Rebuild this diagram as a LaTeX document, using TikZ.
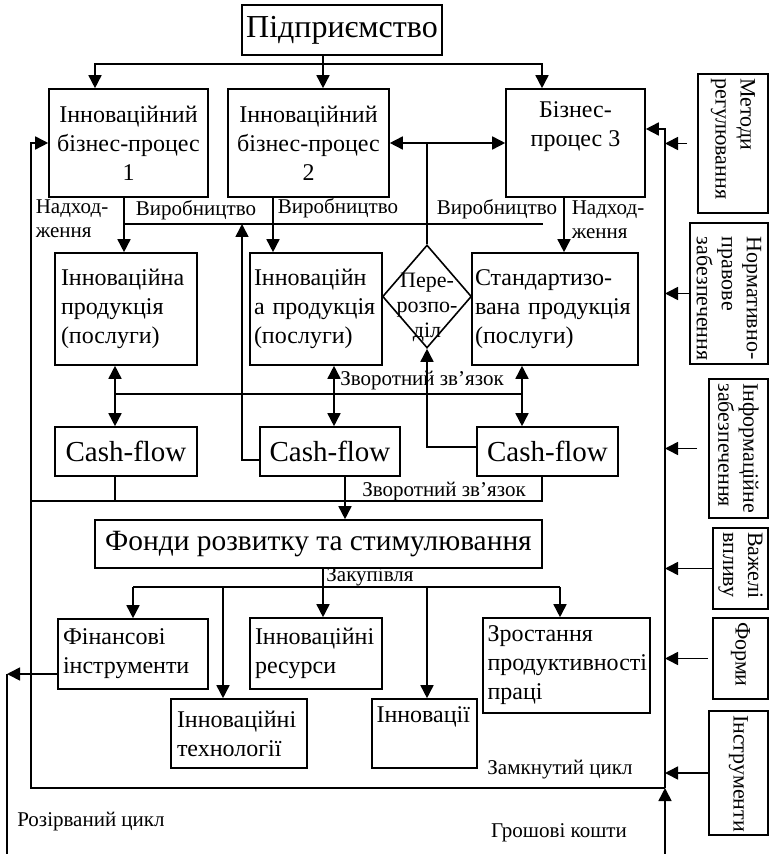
\documentclass[tikz,border=0pt]{standalone}
\usepackage{fontspec}
\setmainfont{Liberation Serif}
\usetikzlibrary{math}
\usetikzlibrary{arrows.meta}
\usetikzlibrary{shapes.geometric}

\tikzset{
  tip/.style={-{Triangle[length=6.5pt,width=6.5pt]}},
  twotip/.style={{Triangle[length=6.5pt,width=6.5pt]}-{Triangle[length=6.5pt,width=6.5pt]}},
  spot/.style n args={4}{at={({(#1+#3)/2},{(#2+#4)/2})},
    minimum width={(#3-#1)*0.5pt}, minimum height={(#4-#2)*0.5pt}},
  box/.style={draw, inner sep=0pt, align=center, font=\fontsize{12}{14.5}\selectfont},
  lbox/.style={box, align=left},
  bigbox/.style={box, font=\fontsize{16}{19}\selectfont},
  cashbox/.style={box, font=\fontsize{14.5}{17}\selectfont},
  sidebox/.style={draw, inner sep=0pt, font=\fontsize{11}{12.5}\selectfont},
  lbl/.style={inner sep=0pt, align=left, font=\fontsize{10.5}{12}\selectfont}
}
\newcommand{\sidetext}[2]{\rotatebox{-90}{\parbox{#1}{\raggedright #2}}}

\begin{document}
\begin{tikzpicture}[x=0.5pt, y=-0.5pt, line width=0.8pt]

\useasboundingbox (0,0) rectangle (769,854);

% рівні ліній
\tikzmath{ \yTop = 64; \yMake = 224; \yBack = 394; \yLow = 501; \yBuy = 587; \yLoop = 788; \xLoop = 31; \xRight = 665; }

% Підприємство і бізнес-процеси
\node[bigbox, spot={242}{5}{442}{55}] (firm) {Підприємство};
\node[box, spot={49}{89}{208}{197}] (bp1) {Інноваційний\\бізнес-процес\\1};
\node[box, spot={228}{89}{389}{197}] (bp2) {Інноваційний\\бізнес-процес\\2};
\node[box, spot={506}{89}{645}{197}] (bp3) {Бізнес-\\процес 3\\\strut};

% Продукція
\node[lbox, text width=65pt, spot={55}{253}{197}{365}] (pr1) {Інноваційна\\продукція\\(послуги)};
\node[lbox, text width=62pt, spot={250}{253}{382}{365}] (pr2) {Інноваційн\\а продукція\\(послуги)};
\node[diamond, draw, minimum width=44.5pt, minimum height=51.5pt, inner sep=0pt] (dia) at (427,296.5) {};
\node[lbl, align=center, font=\fontsize{11}{12.5}\selectfont] (diatxt) at (427,307) {Пере-\\розпо-\\діл};
\node[lbox, text width=80pt, spot={472}{253}{638}{365}] (pr3) {\mbox{Стандартизо-}\\вана продукція\\(послуги)};

% Cash-flow
\node[cashbox, spot={55}{427}{197}{476}] (cf1) {Cash-flow};
\node[cashbox, spot={260}{427}{400}{476}] (cf2) {Cash-flow};
\node[cashbox, spot={477}{427}{618}{476}] (cf3) {Cash-flow};

% Фонди і закупівля
\node[bigbox, font=\fontsize{14.7}{17}\selectfont, spot={95}{520}{542}{568}] (fund) {Фонди розвитку та стимулювання};
\node[lbox, text width=70pt, spot={58}{619}{208}{689}] (fin) {Фінансові\\інструменти};
\node[lbox, text width=61pt, spot={250}{618}{382}{689}] (res) {Інноваційні\\ресурси};
\node[lbox, text width=62pt, spot={171}{699}{307}{768}] (tech) {Інноваційні\\технології};
\node[lbox, text width=48pt, spot={372}{699}{477}{768}] (inn) {Інновації\\\strut};
\node[lbox, text width=79pt, spot={483}{618}{650}{713}] (grow) {Зростання\\продуктивності\\праці};

% Важелі справа
\node[sidebox, spot={698}{74}{768}{213}] (m1) {\sidetext{65pt}{Методи\\регулювання}};
\node[sidebox, spot={690}{223}{768}{364}] (m2) {\sidetext{56.5pt}{\mbox{Нормативно-}\\правове\\забезпечення}};
\node[sidebox, spot={709}{379}{768}{518}] (m3) {\sidetext{65pt}{Інформаційне\\забезпечення}};
\node[sidebox, spot={713}{528}{768}{609}] (m4) {\sidetext{36.5pt}{Важелі\\впливу}};
\node[sidebox, spot={713}{618}{768}{699}] (m5) {\sidetext{36.5pt}{Форми}};
\node[sidebox, spot={709}{711}{768}{835}] (m6) {\sidetext{58pt}{Інструменти}};

% Підписи
\node[lbl] (in1) at (72,219) {\mbox{Надход-}\\ження};
\node[lbl] (mk1) at (196,210) {Виробництво};
\node[lbl] (mk2) at (338,208) {Виробництво};
\node[lbl] (mk3) at (497,209) {Виробництво};
\node[lbl] (in3) at (608,220) {\mbox{Надход-}\\ження};
\node[lbl] (fb1) at (422,381) {Зворотний зв’язок};
\node[lbl] (fb2) at (444,492) {Зворотний зв’язок};
\node[lbl] (buy) at (370,577) {Закупівля};
\node[lbl] (open) at (91,822) {Розірваний цикл};
\node[lbl] (closed) at (560,770) {Замкнутий цикл};
\node[lbl] (money) at (559,833) {Грошові кошти};

% Від підприємства
\coordinate (t1) at (95,\yTop);
\coordinate (t2) at (323,\yTop);
\coordinate (t3) at (542,\yTop);
\draw (firm.south -| t2) -- (t2);
\draw[tip] (t2) -- (t1) -- (t1 |- bp1.north);
\draw[tip] (t2) -- (t2 |- bp2.north);
\draw[tip] (t2) -- (t3) -- (t3 |- bp3.north);

\draw[twotip] (bp2.east) -- (bp3.west);
\draw (dia.north) -- (dia.north |- bp2.east);

% Виробництво
\coordinate (v1) at (124,\yMake);
\coordinate (v2) at (273,\yMake);
\coordinate (v3) at (564,\yMake);
\coordinate (vE) at (543,\yMake);
\draw (v1) -- (vE);
\draw[tip] (v1 |- bp1.south) -- (v1 |- pr1.north);
\draw[tip] (v2 |- bp2.south) -- (v2 |- pr2.north);
\draw[tip] (v3 |- bp3.south) -- (v3 |- pr3.north);
\coordinate (u2) at (242,460);
\draw[tip] (cf2.west |- u2) -- (u2) -- (u2 |- vE);

% Зворотний зв'язок
\coordinate (f1) at (115,\yBack);
\coordinate (f2) at (334,\yBack);
\coordinate (f3) at (522,\yBack);
\draw (f1) -- (f3);
\draw[twotip] (f1 |- pr1.south) -- (f1 |- cf1.north);
\draw[twotip] (f2 |- pr2.south) -- (f2 |- cf2.north);
\draw[twotip] (f3 |- pr3.south) -- (f3 |- cf3.north);
\coordinate (d3) at (427,447);
\draw[tip] (cf3.west |- d3) -- (d3) -- (dia.south);

\coordinate (g0) at (\xLoop,\yLow);
\coordinate (g1) at (115,\yLow);
\coordinate (g2) at (345,\yLow);
\coordinate (g3) at (542,\yLow);
\draw (cf1.south -| g1) -- (g1);
\draw (g0) -- (g3) -- (g3 |- cf3.south);
\draw[tip] (cf2.south -| g2) -- (g2 |- fund.north);

% Закупівля
\coordinate (k0) at (133,\yBuy);
\coordinate (k1) at (223,\yBuy);
\coordinate (k2) at (323,\yBuy);
\coordinate (k3) at (427,\yBuy);
\coordinate (k4) at (560,\yBuy);
\draw (fund.south -| k2) -- (k2);
\draw (k0) -- (k4);
\draw[tip] (k0) -- (k0 |- fin.north);
\draw[tip] (k1) -- (k1 |- tech.north);
\draw[tip] (k2) -- (k2 |- res.north);
\draw[tip] (k3) -- (k3 |- inn.north);
\draw[tip] (k4) -- (k4 |- grow.north);

% Замкнутий цикл
\coordinate (lb) at (\xLoop,\yLoop);
\coordinate (rb) at (\xRight,\yLoop);
\coordinate (rt) at (\xRight,129);
\coordinate (cash) at (\xRight,854);
\draw[tip] (rb) -- (lb) -- (lb |- bp1.west) -- (bp1.west);
\draw[tip] (rb) -- (rt) -- (rt -| bp3.east);
\draw[tip] (cash) -- (rb);

\draw[tip] ([xshift=-5pt]m1.west) -- (m1.west -| rt);
\draw[tip] (m2.west) -- (m2.west -| rt);
\draw[tip] ([xshift=-5.5pt]m3.west) -- (m3.west -| rt);
\draw[tip] (m4.west) -- (m4.west -| rt);
\draw[tip] ([xshift=-2pt]m5.west) -- (m5.west -| rt);
\draw[tip] (m6.west) -- (m6.west -| rt);

% Розірваний цикл
\coordinate (b0) at (7,674);
\coordinate (b1) at (7,854);
\draw[tip] (fin.west |- b0) -- (b0);
\draw (b0) -- (b1);

\end{tikzpicture}
\end{document}
